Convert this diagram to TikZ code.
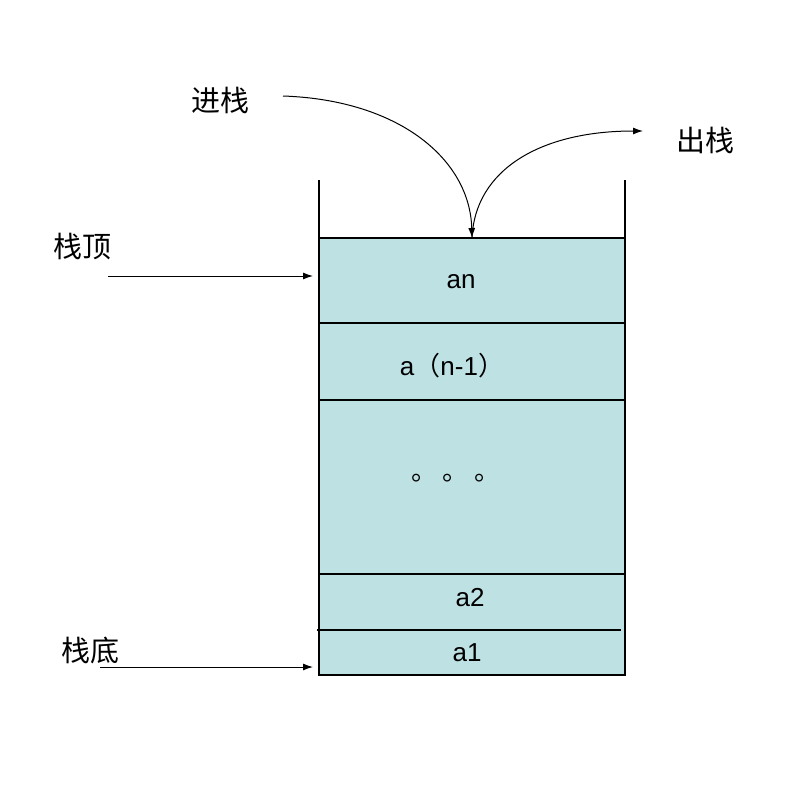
\documentclass[tikz,border=0pt]{standalone}
\usepackage{fontspec}
\setmainfont{Liberation Sans}
\newfontfamily\cjk{Noto Sans CJK SC}
\usetikzlibrary{arrows.meta}
\begin{document}
\begin{tikzpicture}[x=1pt,y=-1pt,
  wall/.style={line width=1.1pt,black},
  arr/.style={line width=1pt,-{Latex[length=10pt,width=7pt]}},
  lbl/.style={font=\fontsize{26}{30}\selectfont},
  clbl/.style={font=\cjk\fontsize{29}{33}\selectfont}]
\useasboundingbox (0,0) rectangle (805,800);
\fill[fill={rgb,255:red,190;green,225;blue,228}] (319,238) rectangle (625,675);
\draw[wall] (319,180) -- (319,675) -- (625,675) -- (625,180);
\foreach \y in {238,323,400,574} \draw[wall] (319,\y) -- (625,\y);
\draw[wall] (317,630) -- (621,630);
\node[lbl] (an) at (461,282) {an};
\node[lbl] (an1) at (452,366) {a\cjk（\rmfamily n-1\cjk）};
\node[lbl] (dots) at (456,478) {\cjk 。\hspace{0.2em}。\hspace{0.2em}。};
\node[lbl] (a2) at (470,598) {a2};
\node[lbl] (a1) at (467,653) {a1};
\coordinate (top) at (472,238);
\node[clbl] (in) at (220,100) {进栈};
\coordinate (ins) at (283,96);
\draw[arr] (ins) .. controls (400,100) and (470,160) .. (top);
\node[clbl] (out) at (705,140) {出栈};
\coordinate (oute) at (643,131);
\draw[arr] (top) .. controls (475,170) and (540,131) .. (oute);
\node[clbl] (st) at (82,247) {栈顶};
\coordinate (sts) at (108,276);
\coordinate (ste) at (313,276);
\draw[arr] (sts) -- (ste);
\node[clbl] (sb) at (90,650) {栈底};
\coordinate (sbs) at (100,667);
\coordinate (sbe) at (313,667);
\draw[arr] (sbs) -- (sbe);
\end{tikzpicture}
\end{document}
